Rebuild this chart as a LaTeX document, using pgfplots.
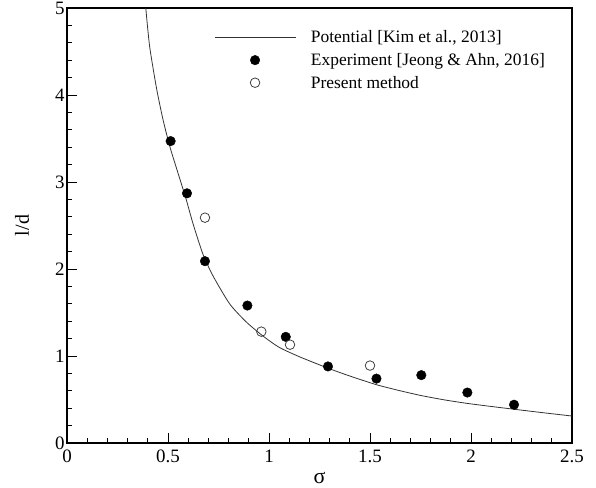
\documentclass[border=0pt]{standalone}
\usepackage{fontspec}
\setmainfont{Liberation Serif}
\usepackage{pgfplots}
\pgfplotsset{compat=1.18}
\pgfplotsset{
    lineleg/.style={legend image code/.code={\path (0bp,0bp) (94bp,0bp);
        \draw[##1] (0bp,0bp) -- (81bp,0bp);}},
    markleg/.style={legend image code/.code={\path (0bp,0bp) (94bp,0bp);
        \draw[##1] plot coordinates {(40.5bp,0bp)};}},
}

\begin{document}
\begin{tikzpicture}
\begin{axis}[
    scale only axis,
    width=505bp, height=435bp,
    xmin=0, xmax=2.5, ymin=0, ymax=5,
    xtick={0,0.5,1,1.5,2,2.5},
    ytick={0,1,2,3,4,5},
    minor x tick num=4,
    minor y tick num=4,
    tick pos=left,
    tick align=inside,
    major tick length=10bp,
    minor tick length=5bp,
    tick style={black, line width=0.9pt},
    axis line style={line width=1.3pt},
    /pgf/number format/assume math mode=true,
    ticklabel style={font=\fontsize{19}{21}\selectfont},
    xticklabel style={/pgf/number format/fixed, yshift=-3bp},
    yticklabel style={xshift=1bp},
    xlabel={σ},
    ylabel={l/d},
    xlabel style={font=\fontsize{22}{24}\selectfont, yshift=-3bp},
    ylabel style={font=\fontsize{20}{22}\selectfont, yshift=19bp},
    legend style={draw=none, fill=none, font=\fontsize{17.5}{21}\selectfont,
        at={(rel axis cs:0.289,0.955)}, anchor=north west,
        row sep=5bp, inner sep=1bp},
    legend cell align=left,
]

% potential-flow curve
\addplot[color=black!80, line width=0.8pt, smooth, tension=0.4, lineleg]
coordinates {
    (0.390,5.00) (0.409,4.56) (0.443,4.08) (0.475,3.72) (0.510,3.40)
    (0.558,3.04) (0.590,2.80) (0.624,2.52) (0.673,2.17) (0.723,1.92)
    (0.805,1.60) (0.888,1.39) (0.970,1.23) (1.050,1.10) (1.152,0.99)
    (1.292,0.86) (1.400,0.77) (1.532,0.67) (1.650,0.60) (1.754,0.545)
    (1.870,0.495) (1.982,0.455) (2.100,0.42) (2.213,0.388) (2.350,0.35)
    (2.500,0.31)
};
\addlegendentry{Potential [Kim et al., 2013]}

% experiment
\addplot[only marks, mark=*, mark size=4.8pt, black, fill=black, markleg]
coordinates {
    (0.513,3.47) (0.594,2.87) (0.683,2.09) (0.893,1.58) (1.083,1.22)
    (1.292,0.88) (1.532,0.74) (1.754,0.78) (1.982,0.58) (2.213,0.44)
};
\addlegendentry{Experiment [Jeong \& Ahn, 2016]}

% present method
\addplot[only marks, mark=o, mark size=4.8pt, black!75, line width=0.8pt, markleg]
coordinates {
    (0.683,2.59) (0.962,1.28) (1.104,1.13) (1.500,0.89)
};
\addlegendentry{Present method}

\end{axis}
\pgfresetboundingbox
\path[use as bounding box] ([xshift=-67bp,yshift=-45bp]current axis.south west)
    rectangle ([xshift=24bp,yshift=8bp]current axis.north east);
\end{tikzpicture}
\end{document}
